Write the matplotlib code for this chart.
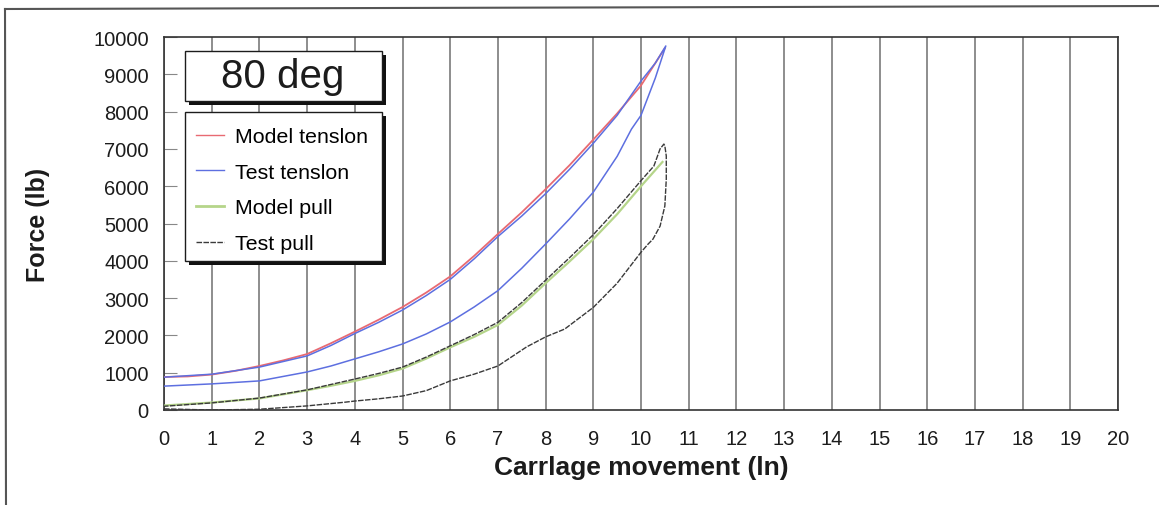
import matplotlib as mpl
import matplotlib.pyplot as plt
from matplotlib.lines import Line2D
from matplotlib.patches import Rectangle

INK = "#1c1c1c"
GRID = "#7a7a7a"
RED = "#e86a72"
BLUE = "#5d6fe0"
GREEN = "#b5d58a"
DARK = "#3a3a3a"

# carriage movement (in) / force (lb)
MODEL_TENSION_X = [0, 0.5, 1, 1.5, 2, 2.5, 3, 3.5, 4, 4.5, 5, 5.5, 6, 6.5, 7, 7.5, 8, 8.5, 9, 9.5, 10, 10.25, 10.5]
MODEL_TENSION_Y = [885, 900, 950, 1050, 1180, 1330, 1500, 1790, 2100, 2420, 2760, 3150, 3580, 4130, 4720,
                   5300, 5920, 6560, 7250, 7950, 8700, 9200, 9700]

TEST_TENSION_X = [0, 1, 2, 3, 3.5, 4, 4.5, 5, 5.5, 6, 6.5, 7, 7.5, 8, 8.5, 9, 9.5, 9.8, 10, 10.3, 10.52,
                  10.3, 10, 9.5, 9, 8.5, 8, 7.5, 7, 6.5, 6, 5.5, 5, 4.5, 4, 3.5, 3, 2, 1, 0]
TEST_TENSION_Y = [640, 700, 780, 1020, 1180, 1370, 1560, 1770, 2040, 2360, 2760, 3200, 3800, 4450, 5120, 5840,
                  6800, 7530, 7900, 8900, 9760,
                  9300, 8820, 7900, 7150, 6450, 5800, 5200, 4650, 4050, 3500, 3070, 2680, 2350, 2050, 1730,
                  1450, 1150, 960, 880]

MODEL_PULL_X = [0, 1, 2, 3, 3.5, 4, 4.5, 5, 5.5, 6, 6.5, 7, 7.5, 8, 8.5, 9, 9.5, 10, 10.45]
MODEL_PULL_Y = [120, 200, 310, 530, 650, 780, 930, 1110, 1380, 1680, 1960, 2280, 2800, 3400, 3980, 4580,
                5250, 6000, 6650]

TEST_PULL_X = [0, 1, 2, 3, 3.8, 4, 4.5, 5, 5.5, 6, 6.5, 7, 7.6, 8, 8.4, 9, 9.5, 10, 10.15, 10.25, 10.4,
               10.5, 10.53, 10.53, 10.5, 10.48, 10.4, 10.27, 10, 9.5, 9, 8.5, 8, 7.5, 7, 6.5, 6, 5.5, 5,
               4.5, 4, 3, 2, 1, 0]
TEST_PULL_Y = [30, 0, 20, 110, 210, 240, 300, 375, 520, 780, 960, 1180, 1690, 1960, 2170, 2750, 3400, 4230,
               4450, 4580, 4930, 5470, 6190, 6810, 7080, 7130, 7000, 6540, 6150, 5400, 4700, 4080, 3480,
               2880, 2350, 2020, 1720, 1420, 1150, 980, 830, 540, 320, 190, 100]

X_TICKS = list(range(0, 21))
Y_TICKS = list(range(0, 10001, 1000))

SERIES_LABELS = ["Model tenslon", "Test tenslon", "Model pull", "Test pull"]

W, H = 1159, 506


def fx(px):
    return px / W


def fy(py):
    return 1 - py / H


def shadow_box(fig, left, top, right, bottom):
    # black drop shadow, then the white box on top
    fig.patches.append(Rectangle((fx(left + 4), fy(bottom + 4)), fx(right - left), (bottom - top) / H,
                                 transform=fig.transFigure, facecolor="#111111", edgecolor="none", zorder=5))
    fig.patches.append(Rectangle((fx(left), fy(bottom)), fx(right - left), (bottom - top) / H,
                                 transform=fig.transFigure, facecolor="white", edgecolor=INK,
                                 linewidth=1.0, zorder=6))


def main():
    mpl.rcParams["font.family"] = ["Liberation Sans", "DejaVu Sans"]

    fig = plt.figure(figsize=(W / 100, H / 100), dpi=100)
    ax = fig.add_axes([fx(164), fy(411), fx(1118 - 164), (411 - 38) / H])

    ax.plot(MODEL_TENSION_X, MODEL_TENSION_Y, color=RED, linewidth=1.3, zorder=3)
    ax.plot(TEST_TENSION_X, TEST_TENSION_Y, color=BLUE, linewidth=1.1, zorder=4)
    ax.plot(MODEL_PULL_X, MODEL_PULL_Y, color=GREEN, linewidth=1.6, zorder=3)
    ax.plot(TEST_PULL_X, TEST_PULL_Y, color=DARK, linewidth=1.0, linestyle=(0, (4, 1)), zorder=4)

    ax.set_xlim(0, 20)
    ax.set_ylim(0, 10000)
    ax.set_xticks(X_TICKS)
    ax.set_yticks(Y_TICKS)
    ax.grid(axis="x", color=GRID, linewidth=1.2)
    ax.set_axisbelow(True)
    for spine in ax.spines.values():
        spine.set_color("#333333")
        spine.set_linewidth(1.2)
    ax.tick_params(axis="x", length=0, pad=14, labelsize=14.5, colors=INK)
    ax.tick_params(axis="y", direction="in", length=9, width=0.8, color="#888888", pad=11,
                   labelsize=14.5, labelcolor=INK)

    ax.set_xlabel("Carrlage movement (ln)", fontsize=19, weight="bold", color=INK, labelpad=5)
    ax.set_ylabel("Force (lb)", fontsize=18, weight="bold", color=INK)
    ax.yaxis.set_label_coords((50 - 164) / 954, 0.5)

    # title and legend boxes
    shadow_box(fig, 185, 52, 382, 102)
    fig.text(fx(283), fy(77), "80 deg", ha="center", va="center", fontsize=29, color=INK, zorder=7)
    shadow_box(fig, 185, 113, 382, 262)

    handles = [
        Line2D([0], [0], color=RED, linewidth=1.0),
        Line2D([0], [0], color=BLUE, linewidth=1.0),
        Line2D([0], [0], color=GREEN, linewidth=2.0),
        Line2D([0], [0], color=DARK, linewidth=1.0, linestyle=(0, (4, 1))),
    ]
    leg = ax.legend(handles, SERIES_LABELS, loc="upper left", bbox_to_anchor=(fx(196), fy(128)),
                    bbox_transform=fig.transFigure, frameon=False, fontsize=15.4, handlelength=1.3,
                    handletextpad=0.5, labelspacing=0.78, borderpad=0, borderaxespad=0)
    leg.set_zorder(8)
    fig.legends.append(leg)
    ax.get_legend().remove()

    # scanned page border
    fig.add_artist(Line2D([fx(5), 1], [fy(10), fy(7)], transform=fig.transFigure, color="#555555", linewidth=1.5))
    fig.add_artist(Line2D([fx(5), fx(6)], [fy(10), 0], transform=fig.transFigure, color="#555555", linewidth=1.5))

    fig.savefig("out.png", dpi=100)


if __name__ == "__main__":
    main()
